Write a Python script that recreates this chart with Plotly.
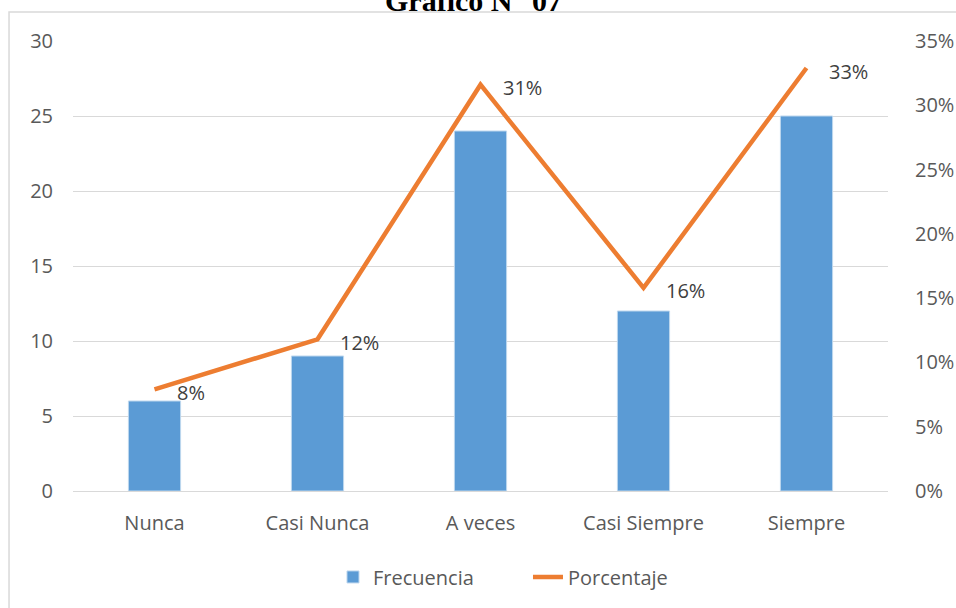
import plotly.graph_objects as go

categories = ["Nunca", "Casi Nunca", "A veces", "Casi Siempre", "Siempre"]
frecuencia = [6, 9, 24, 12, 25]
porcentaje = [0.079, 0.118, 0.316, 0.158, 0.329]
pct_labels = ["8%", "12%", "31%", "16%", "33%"]
left_ticks = [0, 5, 10, 15, 20, 25, 30]
right_ticks = [0, 0.05, 0.10, 0.15, 0.20, 0.25, 0.30, 0.35]

FONT = "Open Sans"
TXT = "#595959"
FS = 20

fig = go.Figure()
fig.add_trace(go.Bar(
    x=categories, y=frecuencia, name="Frecuencia",
    marker=dict(color="#5B9BD5", line=dict(color="#BDD7EE", width=1)),
    width=0.32,
))
fig.add_trace(go.Scatter(
    x=categories, y=porcentaje, name="Porcentaje", yaxis="y2",
    mode="lines", line=dict(color="#ED7D31", width=4.5),
))

for c, v, t in zip(categories, porcentaje, pct_labels):
    fig.add_annotation(x=c, y=v, yref="y2", text=t, showarrow=False,
                       xanchor="left", xshift=20, yshift=-3,
                       font=dict(family=FONT, size=FS, color="#404040"))

fig.add_annotation(x=0.492, y=1.089, xref="paper", yref="paper",
                   text="<b>Gráfico N° 07</b>", showarrow=False,
                   yanchor="middle",
                   font=dict(family="Liberation Serif", size=30, color="black"))

fig.add_shape(type="rect", xref="paper", yref="paper",
              x0=-0.0785, x1=5, y0=-5, y1=1.0644,
              line=dict(color="#D9D9D9", width=1.5), layer="below")

fig.update_layout(
    width=956, height=608,
    margin=dict(l=73, r=68, t=41, b=117, autoexpand=False),
    paper_bgcolor="white", plot_bgcolor="white",
    font=dict(family=FONT, size=FS, color=TXT),
    showlegend=True,
    legend=dict(orientation="h", x=0.319, xanchor="left", y=-0.191, yanchor="middle",
                entrywidth=150,
                font=dict(family=FONT, size=FS, color=TXT)),
    xaxis=dict(showgrid=False, showline=True, linecolor="#D9D9D9", linewidth=1,
               ticks="", ticklabelstandoff=14, automargin=False,
               tickfont=dict(family=FONT, size=FS, color=TXT)),
    yaxis=dict(range=[0, 30], tickvals=left_ticks, showgrid=True, gridcolor="#D9D9D9",
               gridwidth=1, zeroline=False, showline=False, ticks="",
               ticklabelstandoff=19, automargin=False,
               tickfont=dict(family=FONT, size=FS, color=TXT)),
    yaxis2=dict(range=[0, 0.35], tickvals=right_ticks, tickformat=".0%",
                overlaying="y", side="right", showgrid=False, zeroline=False,
                showline=False, ticks="", ticklabelstandoff=26, automargin=False,
                tickfont=dict(family=FONT, size=FS, color=TXT)),
)

fig.write_html("out.html", config={"displayModeBar": False},
               post_script="document.body.style.margin='0px';document.body.style.overflow='hidden';")
